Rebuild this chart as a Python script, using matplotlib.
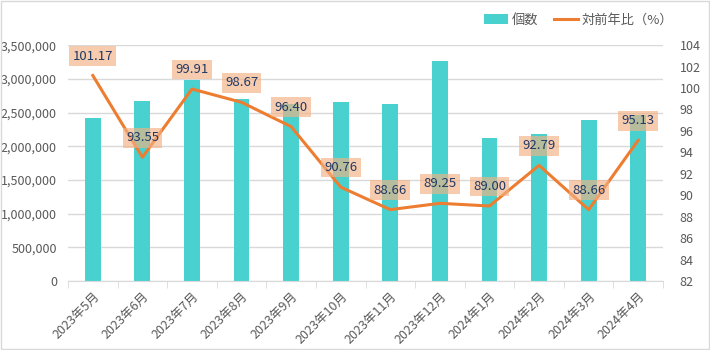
import matplotlib
matplotlib.use("Agg")
import matplotlib.pyplot as plt
import numpy as np
from matplotlib.ticker import FuncFormatter, MultipleLocator
from matplotlib.patches import Rectangle

plt.rcParams['font.family'] = ['Noto Sans CJK JP', 'DejaVu Sans']

months = ["2023年5月", "2023年6月", "2023年7月", "2023年8月", "2023年9月", "2023年10月",
          "2023年11月", "2023年12月", "2024年1月", "2024年2月", "2024年3月", "2024年4月"]
counts = [2420000, 2675000, 2985000, 2700000, 2620000, 2660000,
          2625000, 3270000, 2125000, 2185000, 2385000, 2465000]
yoy = [101.17, 93.55, 99.91, 98.67, 96.40, 90.76,
       88.66, 89.25, 89.00, 92.79, 88.66, 95.13]

TEAL = "#48D1CF"
ORANGE = "#ED7D31"
GRAY = "#595959"
GRID = "#D9D9D9"

fig = plt.figure(figsize=(7.1, 3.5), dpi=100)
fig.patches.append(Rectangle((0.001, 0.002), 0.997, 0.995, transform=fig.transFigure,
                             fill=False, edgecolor="#D9D9D9", lw=1))
ax = fig.add_axes([0.0958, 0.197, 0.838, 0.674])
x = np.arange(len(months))
bars = ax.bar(x, counts, width=0.32, color=TEAL, zorder=2, label="個数")
ax.set_xlim(-0.5, len(months) - 0.5)
ax.set_ylim(0, 3500000)
ax.yaxis.set_major_locator(MultipleLocator(500000))
ax.yaxis.set_major_formatter(FuncFormatter(lambda v, p: f"{int(v):,}"))
ax.grid(axis="y", color=GRID, lw=1, zorder=0)
ax.set_axisbelow(True)
for s in ["top", "right", "left"]:
    ax.spines[s].set_visible(False)
ax.spines["bottom"].set_color(GRID)
ax.tick_params(axis="y", length=0, pad=8, labelsize=9, labelcolor=GRAY)
ax.set_xticks(x)
ax.set_xticklabels(months, rotation=45, ha="right", rotation_mode="anchor",
                   fontsize=9, color=GRAY)
ax.tick_params(axis="x", length=0, pad=6)
ax.set_xticks(np.arange(-0.5, len(months), 1.0), minor=True)
ax.tick_params(axis="x", which="minor", length=5, color=GRID)

ax2 = ax.twinx()
line, = ax2.plot(x, yoy, color=ORANGE, lw=2.2, zorder=3, label="対前年比（%）")
ax2.set_ylim(82, 104)
ax2.yaxis.set_major_locator(MultipleLocator(2))
for s in ["top", "right", "left", "bottom"]:
    ax2.spines[s].set_visible(False)
ax2.tick_params(axis="y", length=0, pad=12, labelsize=9, labelcolor=GRAY)

for xi, v in zip(x, yoy):
    ax2.annotate(f"{v:.2f}", (xi, v), xytext=(0, 14), textcoords="offset points",
                 ha="center", va="center", fontsize=9.5, color="#203864", zorder=5,
                 bbox=dict(boxstyle="square,pad=0.25", fc="#F4B183", ec="none", alpha=0.65))

fig.legend(handles=[bars, line], labels=["個数", "対前年比（%）"], loc="upper right",
           bbox_to_anchor=(0.965, 0.995), ncol=2, frameon=False, fontsize=9.5,
           labelcolor=GRAY, handlelength=1.8, columnspacing=1.2, handletextpad=0.3)

fig.savefig("out.png", dpi=100)
